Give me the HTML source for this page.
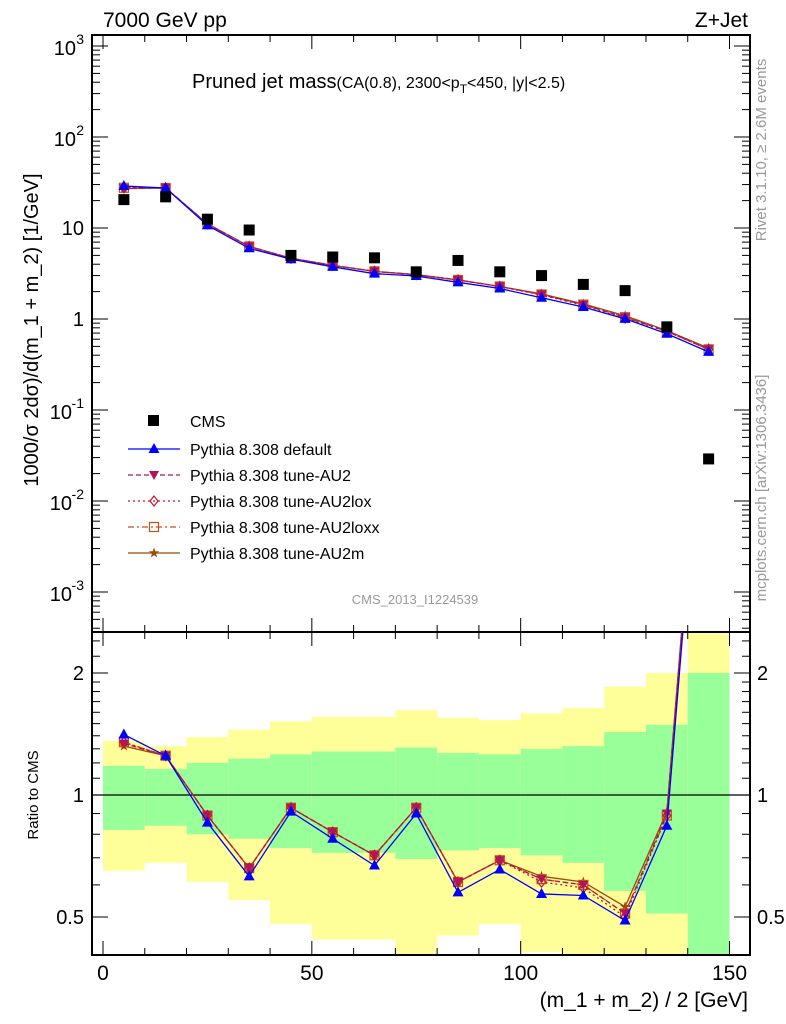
<!DOCTYPE html>
<html><head><meta charset="utf-8"><style>
body{margin:0;background:#fff}
svg{display:block;font-family:"Liberation Sans",sans-serif}
</style></head><body>
<svg id="c" width="786" height="1024" xmlns="http://www.w3.org/2000/svg"></svg>
<script>
const binCenters=[5,15,25,35,45,55,65,75,85,95,105,115,125,135,145];
const cmsValues=[20.5,22,12.5,9.5,5.0,4.8,4.7,3.3,4.4,3.3,3.0,2.4,2.05,0.82,0.029];
const ratioDefault=[1.41,1.25,0.855,0.63,0.91,0.78,0.67,0.90,0.575,0.655,0.57,0.565,0.49,0.84,15];
const ratioAU2=[1.34,1.25,0.89,0.66,0.93,0.81,0.71,0.93,0.61,0.69,0.62,0.60,0.51,0.90,16];
const ratioAU2lox=[1.35,1.25,0.89,0.66,0.93,0.81,0.71,0.93,0.61,0.69,0.61,0.59,0.50,0.89,16];
const ratioAU2loxx=[1.35,1.25,0.89,0.66,0.93,0.81,0.71,0.93,0.61,0.69,0.62,0.60,0.51,0.89,16];
const ratioAU2m=[1.32,1.25,0.89,0.66,0.93,0.81,0.71,0.93,0.61,0.69,0.63,0.61,0.53,0.91,16.5];
const greenUp=[1.18,1.16,1.20,1.23,1.26,1.28,1.28,1.31,1.27,1.26,1.30,1.32,1.43,1.49,2.0];
const greenLo=[0.82,0.84,0.80,0.78,0.74,0.72,0.72,0.695,0.73,0.74,0.71,0.68,0.58,0.51,0.3];
const yellowUp=[1.36,1.32,1.39,1.45,1.52,1.56,1.56,1.62,1.55,1.53,1.59,1.64,1.85,2.0,3.0];
const yellowLo=[0.65,0.68,0.61,0.55,0.48,0.44,0.44,0.3,0.45,0.48,0.41,0.3,0.3,0.3,0.3];
const xTicks=[0,50,100,150];
const mainYTicks=[3,2,1,0,-1,-2,-3];

const NS="http://www.w3.org/2000/svg";
const svg=document.getElementById('c');
const L=92,R=750,T=35,MB=632,RB=955;
const X=v=>103+(v)*(729.5-103)/150;
const YM=v=>319-91*Math.log10(v);
const YR=v=>795-122*Math.log2(v);
function el(tag,a,parent){const e=document.createElementNS(NS,tag);for(const k in a)e.setAttribute(k,a[k]);(parent||svg).appendChild(e);return e;}
function txt(s,a,parent){const e=el('text',a,parent);e.textContent=s;return e;}

const defs=el('defs',{});
const c1=el('clipPath',{id:'cm'},defs);el('rect',{x:L,y:T,width:R-L,height:MB-T},c1);
const c2=el('clipPath',{id:'cr'},defs);el('rect',{x:L,y:MB,width:R-L,height:RB-MB},c2);

const bands=el('g',{'clip-path':'url(#cr)'});


binCenters.forEach((c,i)=>{
  const r1=el('rect',{x:X(c-5),width:X(c+5)-X(c-5),y:YR(yellowUp[i]),height:YR(yellowLo[i])-YR(yellowUp[i]),fill:'#ffff99'},bands);
  
  
  const r2=el('rect',{x:X(c-5),width:X(c+5)-X(c-5),y:YR(greenUp[i]),height:YR(greenLo[i])-YR(greenUp[i]),fill:'#99ff99'},bands);
  
  
});
el('line',{x1:L,x2:R,y1:YR(1),y2:YR(1),stroke:'#000','stroke-width':1.2});

el('rect',{x:L,y:T,width:R-L,height:MB-T,fill:'none',stroke:'#000','stroke-width':2,});
el('rect',{x:L,y:MB,width:R-L,height:RB-MB,fill:'none',stroke:'#000','stroke-width':2,});

for(let v=0;v<=150;v+=10){const maj=v%50===0;const l=maj?14:7;
  [[T,1],[MB,-1],[MB,1],[RB,-1]].forEach(([y,d])=>el('line',{x1:X(v),x2:X(v),y1:y,y2:y+d*l,stroke:'#000','stroke-width':1}));
}
xTicks.forEach(v=>{const t=txt(String(v),{x:X(v),y:980,'font-size':21,'text-anchor':'middle'});
  
  });

for(let d=-4;d<=3;d++){for(let m=1;m<10;m++){const v=m*Math.pow(10,d);const y=YM(v);if(y<T||y>MB)continue;const l=m===1?16:8;
  el('line',{x1:L,x2:L+l,y1:y,y2:y,stroke:'#000'});el('line',{x1:R,x2:R-l,y1:y,y2:y,stroke:'#000'});}}
const lab=el('g',{'font-size':20,'text-anchor':'end',});
mainYTicks.forEach(e=>{const y=YM(Math.pow(10,e));
  if(e===0)txt('1',{x:84,y:y+7},lab);
  else if(e===1)txt('10',{x:84,y:y+7},lab);
  else{txt('10',{x:e<0?72:76,y:y+9},lab);txt(String(e),{x:84,y:y-2,'font-size':14},lab);}
});

const rt=[];for(let v=0.4;v<2.001;v+=0.1)rt.push(+v.toFixed(1));rt.push(2.2,2.4);
rt.forEach(v=>{const y=YR(v);if(y<MB||y>RB)return;const maj=(v===0.5||v===1||v===2);const l=maj?16:8;
  el('line',{x1:L,x2:L+l,y1:y,y2:y,stroke:'#000'});el('line',{x1:R,x2:R-l,y1:y,y2:y,stroke:'#000'});});
[[0.5,'0.5'],[1,'1'],[2,'2']].forEach(([v,s])=>{
  txt(s,{x:84,y:YR(v)+7,'font-size':20,'text-anchor':'end'});
  txt(s,{x:757,y:YR(v)+7,'font-size':20});});

const series=[
 {name:'default',r:ratioDefault,col:'#0000ff',dash:'',mk:'tri'},
 {name:'tune-AU2',r:ratioAU2,col:'#b0145a',dash:'5,3',mk:'itri'},
 {name:'tune-AU2lox',r:ratioAU2lox,col:'#c8142d',dash:'2,3',mk:'dia'},
 {name:'tune-AU2loxx',r:ratioAU2loxx,col:'#c85014',dash:'6,3,2,3',mk:'sq'},
 {name:'tune-AU2m',r:ratioAU2m,col:'#9b4b0a',dash:'',mk:'star'}];
function marker(g,t,x,y,col){
  if(t==='tri')el('path',{d:`M${x},${y-6}L${x+5.5},${y+4}L${x-5.5},${y+4}Z`,fill:col},g);
  else if(t==='itri')el('path',{d:`M${x},${y+5}L${x+5},${y-4}L${x-5},${y-4}Z`,fill:col},g);
  else if(t==='dia')el('path',{d:`M${x},${y-5}L${x+4},${y}L${x},${y+5}L${x-4},${y}Z`,fill:'none',stroke:col,'stroke-width':1.2},g);
  else if(t==='sq')el('rect',{x:x-4.5,y:y-4.5,width:9,height:9,fill:'none',stroke:col,'stroke-width':1.2},g);
  else{let p='';for(let k=0;k<10;k++){const a=-Math.PI/2+k*Math.PI/5,rr=k%2?2.2:5.5;p+=(k?'L':'M')+(x+rr*Math.cos(a)).toFixed(1)+','+(y+rr*Math.sin(a)).toFixed(1);}el('path',{d:p+'Z',fill:col},g);}
}
series.slice().reverse().forEach(s=>{
  const mc=s.r.map((r,i)=>r*cmsValues[i]);
  const gm=el('g',{'clip-path':'url(#cm)'});
  
  
  el('polyline',{points:binCenters.map((c,i)=>X(c)+','+YM(mc[i])).join(' '),fill:'none',stroke:s.col,'stroke-width':1.3,'stroke-dasharray':s.dash},gm);
  binCenters.forEach((c,i)=>marker(gm,s.mk,X(c),YM(mc[i]),s.col));
  const gr=el('g',{'clip-path':'url(#cr)'});
  
  
  el('polyline',{points:binCenters.map((c,i)=>X(c)+','+YR(s.r[i])).join(' '),fill:'none',stroke:s.col,'stroke-width':1.3,'stroke-dasharray':s.dash},gr);
  binCenters.forEach((c,i)=>marker(gr,s.mk,X(c),YR(s.r[i]),s.col));
});
const gd=el('g',{'clip-path':'url(#cm)'});


binCenters.forEach((c,i)=>el('rect',{x:X(c)-5.5,y:YM(cmsValues[i])-5.5,width:11,height:11,fill:'#000'},gd));

const lg=el('g',{});
el('rect',{x:148,y:415,width:11,height:11,fill:'#000'},lg);
txt('CMS',{x:190,y:427,'font-size':16},lg);
series.forEach((s,i)=>{const y=449+i*26;
  el('line',{x1:128,x2:180,y1:y,y2:y,stroke:s.col,'stroke-width':1.3,'stroke-dasharray':s.dash},lg);
  marker(lg,s.mk,154,y,s.col);
  txt('Pythia 8.308 '+s.name,{x:190,y:y+6,'font-size':16},lg);});

txt('7000 GeV pp',{x:103,y:27,'font-size':21,});
txt('Z+Jet',{x:748,y:27,'font-size':21,'text-anchor':'end',});
const tt=txt('',{x:192,y:88,'font-size':20,});
tt.innerHTML='Pruned jet mass<tspan font-size="16">(CA(0.8), 2300&lt;p</tspan><tspan font-size="12" dy="5">T</tspan><tspan font-size="16" dy="-5">&lt;450, |y|&lt;2.5)</tspan>';
txt('CMS_2013_I1224539',{x:415,y:604,'font-size':13,fill:'#999','text-anchor':'middle',});
txt('1000/σ 2dσ)/d(m_1 + m_2) [1/GeV]',{transform:'translate(38,330) rotate(-90)','font-size':20,'text-anchor':'middle',});
txt('Ratio to CMS',{transform:'translate(38,795) rotate(-90)','font-size':15,'text-anchor':'middle',});
txt('(m_1 + m_2) / 2 [GeV]',{x:748,y:1007,'font-size':21,'text-anchor':'end',});
txt('Rivet 3.1.10, ≥ 2.6M events',{transform:'translate(766,150) rotate(-90)','font-size':15,fill:'#999','text-anchor':'middle',});
txt('mcplots.cern.ch [arXiv:1306.3436]',{transform:'translate(766,488) rotate(-90)','font-size':15,fill:'#999','text-anchor':'middle',});
</script>
</body></html>
